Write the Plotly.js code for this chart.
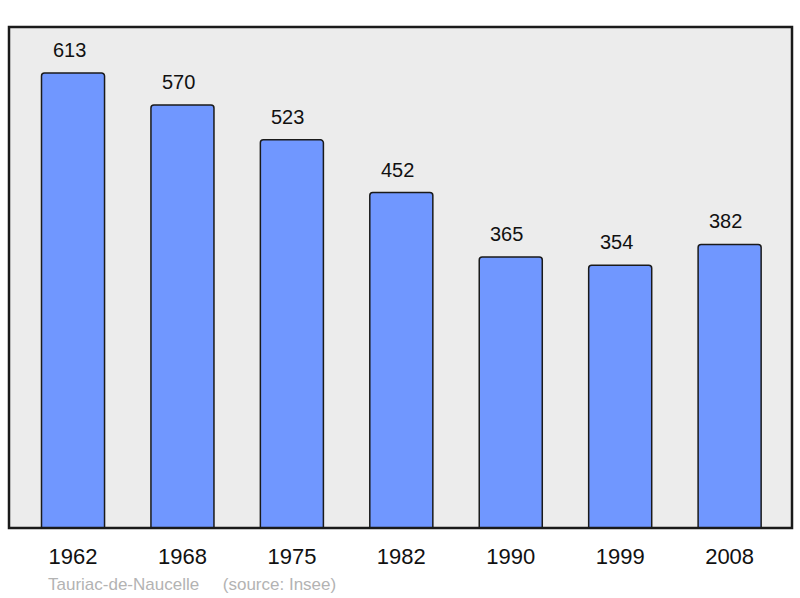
<!DOCTYPE html>
<html>
<head>
<meta charset="utf-8">
<script src="https://cdn.plot.ly/plotly-3.0.1.min.js"></script>
<style>
  html, body { margin: 0; padding: 0; background: #fff; }
  #plot { width: 800px; height: 598px; }
</style>
</head>
<body>
<div id="plot"></div>
<script>
// Population by census year
var years = ["1962", "1968", "1975", "1982", "1990", "1999", "2008"];
var population = [613, 570, 523, 452, 365, 354, 382];

var trace = {
  x: years,
  y: population,
  type: "bar",
  width: 0.576,
  marker: {
    color: "#7097ff",
    line: { color: "#1a1a1a", width: 1.5 },
    cornerradius: 3
  },
  hoverinfo: "none"
};

// value labels above each bar (category axis -> use index)
var labels = years.map(function (yr, i) {
  return {
    x: i,
    y: population[i],
    text: String(population[i]),
    showarrow: false,
    yanchor: "bottom",
    yshift: 10,
    xshift: -4,
    font: { family: "Liberation Sans, Arial, sans-serif", size: 20, color: "#111" }
  };
});

labels.push({
  xref: "paper", yref: "paper",
  x: 37 / 783, y: -56 / 501,
  xanchor: "left", yanchor: "middle",
  text: "Tauriac-de-Naucelle&nbsp;&nbsp;&nbsp;&nbsp;&nbsp;(source: Insee)",
  showarrow: false,
  font: { family: "Liberation Sans, Arial, sans-serif", size: 17, color: "#b3b3b3" }
});

var layout = {
  width: 800,
  height: 598,
  margin: { l: 9, r: 8, t: 27, b: 70 },
  paper_bgcolor: "#ffffff",
  plot_bgcolor: "#ececec",
  showlegend: false,
  font: { family: "Liberation Sans, Arial, sans-serif", color: "#111" },
  xaxis: {
    type: "category",
    range: [-0.585, 6.57],
    showgrid: false,
    zeroline: false,
    showline: false,
    ticks: "outside",
    ticklen: 9,
    tickcolor: "rgba(0,0,0,0)",
    tickfont: { size: 22, color: "#111" },
    fixedrange: true
  },
  yaxis: {
    range: [0, 675],
    showgrid: false,
    zeroline: false,
    showline: false,
    showticklabels: false,
    ticks: "",
    fixedrange: true
  },
  shapes: [{
    type: "rect",
    xref: "paper", yref: "paper",
    x0: 0, x1: 1, y0: 0, y1: 1,
    line: { color: "#1a1a1a", width: 2.5 },
    layer: "above"
  }],
  annotations: labels
};

Plotly.newPlot("plot", [trace], layout, { displayModeBar: false, staticPlot: true });
</script>
</body>
</html>
